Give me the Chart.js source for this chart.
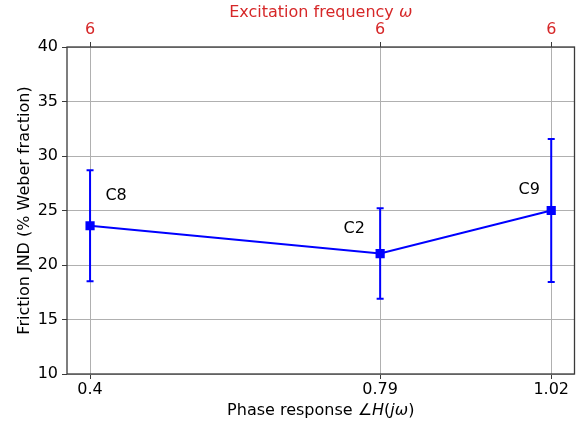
<!DOCTYPE html>
<html>
<head>
<meta charset="utf-8">
<script src="https://cdn.jsdelivr.net/npm/chart.js@4/dist/chart.umd.min.js"></script>
<style>
    html, body { margin: 0; padding: 0; background: #fff; }
    #wrap { width: 581px; height: 424px; position: relative; }
</style>
</head>
<body>
<div id="wrap"><canvas id="chartCanvas"></canvas></div>
<script>
// Phase response per condition, with JND mean and error (± half-width)
const phase = [0.4, 0.79, 1.02];
const jnd = [23.6, 21.05, 25.0];
const jndErr = [5.1, 4.15, 6.55];
const conditions = ['C8', 'C2', 'C9'];
const freqLabels = ['6', '6', '6'];
const yTicks = [10, 15, 20, 25, 30, 35, 40];

(function() {
    const FONT = "'DejaVu Sans', sans-serif";
    const SIZE = 16;
    const BLUE = '#0000ff';
    const RED = '#d62728';
    const SPINE = '#3a3a3a';

    // label offsets (px) relative to each marker
    const labelOffsets = [[26, -30], [-26, -25], [-22, -21]];

    // draw a line of text made of upright / italic pieces, centred on (cx, cy)
    function drawMixed(ctx, parts, cx, cy, size, color) {
        ctx.save();
        ctx.fillStyle = color;
        ctx.textBaseline = 'middle';
        ctx.textAlign = 'left';
        let total = 0;
        parts.forEach(p => {
            ctx.font = (p.it ? 'italic ' : '') + size + 'px ' + FONT;
            total += ctx.measureText(p.t).width;
        });
        let x = cx - total / 2;
        parts.forEach(p => {
            ctx.font = (p.it ? 'italic ' : '') + size + 'px ' + FONT;
            ctx.fillText(p.t, x, cy);
            x += ctx.measureText(p.t).width;
        });
        ctx.restore();
    }

    const overlay = {
        id: 'overlay',
        beforeDatasetsDraw(chart) {
            // error bars with caps
            const { ctx, scales } = chart;
            ctx.save();
            ctx.strokeStyle = BLUE;
            ctx.lineWidth = 2;
            phase.forEach((p, i) => {
                const x = scales.x.getPixelForValue(p);
                const yTop = scales.y.getPixelForValue(jnd[i] + jndErr[i]);
                const yBot = scales.y.getPixelForValue(jnd[i] - jndErr[i]);
                ctx.beginPath();
                ctx.moveTo(x, yTop);
                ctx.lineTo(x, yBot);
                ctx.moveTo(x - 3.5, yTop);
                ctx.lineTo(x + 3.5, yTop);
                ctx.moveTo(x - 3.5, yBot);
                ctx.lineTo(x + 3.5, yBot);
                ctx.stroke();
            });
            ctx.restore();
        },
        afterDatasetsDraw(chart) {
            // condition names next to each marker
            const { ctx, scales } = chart;
            ctx.save();
            ctx.fillStyle = '#000';
            ctx.font = SIZE + 'px ' + FONT;
            ctx.textAlign = 'center';
            ctx.textBaseline = 'middle';
            conditions.forEach((c, i) => {
                const x = scales.x.getPixelForValue(phase[i]);
                const y = scales.y.getPixelForValue(jnd[i]);
                ctx.fillText(c, x + labelOffsets[i][0], y + labelOffsets[i][1]);
            });
            ctx.restore();
        },
        afterDraw(chart) {
            const { ctx, chartArea: a } = chart;
            // axes frame
            ctx.save();
            ctx.strokeStyle = SPINE;
            ctx.lineWidth = 1.3;
            ctx.strokeRect(a.left, a.top, a.right - a.left, a.bottom - a.top);
            ctx.restore();

            const cx = (a.left + a.right) / 2;
            drawMixed(ctx, [
                { t: 'Phase response \u2220' }, { t: 'H', it: true },
                { t: '(' }, { t: 'j\u03c9', it: true }, { t: ')' }
            ], cx, 411, SIZE, '#000');
            drawMixed(ctx, [
                { t: 'Excitation frequency ' }, { t: '\u03c9', it: true }
            ], cx, 12.5, SIZE, RED);

            ctx.save();
            ctx.translate(25, (a.top + a.bottom) / 2);
            ctx.rotate(-Math.PI / 2);
            drawMixed(ctx, [{ t: 'Friction JND (% Weber fraction)' }], 0, 0, SIZE, '#000');
            ctx.restore();
        }
    };

    const tickFont = { family: FONT, size: SIZE };
    const xMin = 0.369, xMax = 1.0513;

    new Chart(document.getElementById('chartCanvas'), {
        type: 'line',
        data: {
            datasets: [{
                data: phase.map((p, i) => ({ x: p, y: jnd[i] })),
                borderColor: BLUE,
                backgroundColor: BLUE,
                borderWidth: 2,
                pointStyle: 'rect',
                pointRadius: 6.5,
                pointBorderWidth: 0,
                tension: 0
            }]
        },
        options: {
            responsive: true,
            maintainAspectRatio: false,
            animation: false,
            layout: { padding: { top: 0, right: 6, bottom: 0, left: 0 } },
            plugins: {
                legend: { display: false },
                tooltip: { enabled: false }
            },
            scales: {
                x: {
                    type: 'linear',
                    position: 'bottom',
                    min: xMin,
                    max: xMax,
                    afterBuildTicks: scale => { scale.ticks = phase.map(v => ({ value: v })); },
                    afterFit: scale => { scale.height = 50; },
                    border: { display: false },
                    grid: { color: '#b0b0b0', lineWidth: 1, tickColor: SPINE, tickLength: 5 },
                    ticks: {
                        color: '#000',
                        font: tickFont,
                        padding: 1,
                        maxRotation: 0,
                        callback: v => String(v)
                    }
                },
                x2: {
                    type: 'linear',
                    position: 'top',
                    min: xMin,
                    max: xMax,
                    afterBuildTicks: scale => { scale.ticks = phase.map(v => ({ value: v })); },
                    afterFit: scale => { scale.height = 47; },
                    border: { display: false },
                    grid: { drawOnChartArea: false, tickColor: SPINE, tickLength: 5 },
                    ticks: {
                        color: RED,
                        font: tickFont,
                        padding: 3,
                        maxRotation: 0,
                        callback: (v, i) => freqLabels[i]
                    }
                },
                y: {
                    min: yTicks[0],
                    max: yTicks[yTicks.length - 1],
                    afterBuildTicks: scale => { scale.ticks = yTicks.map(v => ({ value: v })); },
                    afterFit: scale => { scale.width = 67; },
                    border: { display: false },
                    grid: { color: '#b0b0b0', lineWidth: 1, tickColor: SPINE, tickLength: 5 },
                    ticks: { color: '#000', font: tickFont, padding: 4 }
                }
            }
        },
        plugins: [overlay]
    });
})();
</script>
</body>
</html>
